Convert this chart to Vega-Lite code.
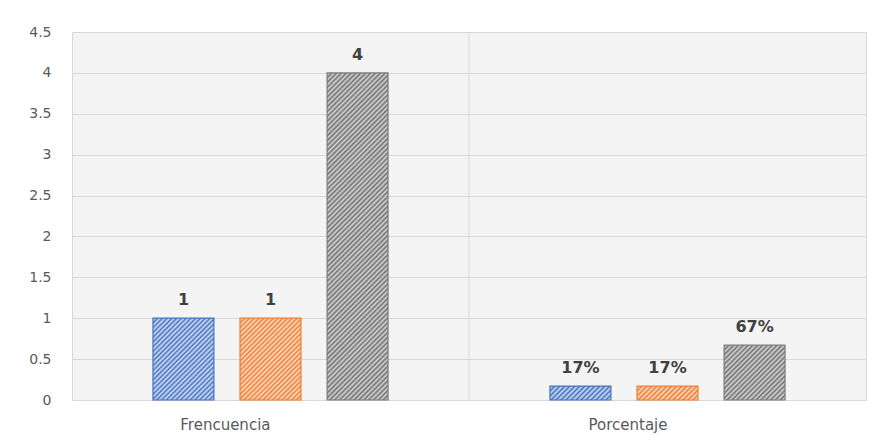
{
  "$schema": "https://vega.github.io/schema/vega-lite/v6.json",
  "width": 794,
  "height": 368,
  "autosize": {"type": "none"},
  "padding": {"left": 72, "top": 32, "right": 15, "bottom": 41},
  "background": "white",
  "config": {
    "font": "DejaVu Sans",
    "view": {"stroke": "#d9d9d9", "strokeWidth": 1, "fill": "#f4f4f4"}
  },
  "data": {
    "values": [
      {"categoria": "Frencuencia", "serie": "Serie 1", "valor": 1},
      {"categoria": "Frencuencia", "serie": "Serie 2", "valor": 1},
      {"categoria": "Frencuencia", "serie": "Serie 3", "valor": 4},
      {"categoria": "Porcentaje", "serie": "Serie 1", "valor": 0.17},
      {"categoria": "Porcentaje", "serie": "Serie 2", "valor": 0.17},
      {"categoria": "Porcentaje", "serie": "Serie 3", "valor": 0.67}
    ]
  },
  "encoding": {
    "y": {
      "field": "valor",
      "type": "quantitative",
      "scale": {"domain": [0, 4.5], "nice": false},
      "axis": {
        "title": null,
        "values": [0, 0.5, 1, 1.5, 2, 2.5, 3, 3.5, 4, 4.5],
        "format": "~g",
        "grid": true,
        "gridColor": "#d9d9d9",
        "gridWidth": 1,
        "domain": false,
        "ticks": false,
        "labelPadding": 21,
        "labelFontSize": 14,
        "labelColor": "#595959"
      }
    }
  },
  "layer": [
    {
      "transform": [{"filter": "datum.categoria === 'Porcentaje' && datum.serie === 'Serie 1'"}],
      "mark": {"type": "rule", "color": "#d9d9d9", "strokeWidth": 1},
      "encoding": {
        "x": {"field": "categoria", "type": "nominal", "bandPosition": 0},
        "y": null
      }
    },
    {
      "encoding": {
        "x": {
          "field": "categoria",
          "type": "nominal",
          "sort": ["Frencuencia", "Porcentaje"],
          "scale": {"paddingInner": 0, "paddingOuter": 0},
          "axis": {
            "title": null,
            "domain": false,
            "ticks": false,
            "grid": false,
            "labelAngle": 0,
            "labelPadding": 24,
            "labelFontSize": 15,
            "labelColor": "#595959"
          }
        },
        "xOffset": {
          "field": "serie",
          "scale": {"paddingInner": 0.3, "paddingOuter": 0.93}
        }
      },
      "layer": [
        {
          "transform": [{"filter": "datum.categoria === 'Frencuencia' && datum.serie === 'Serie 1'"}],
          "mark": {
            "type": "bar", "stroke": "#4472c4", "strokeWidth": 1.2,
            "fill": {"gradient": "linear", "x1": 0, "y1": 0, "x2": 0.8358, "y2": 1.1223, "stops": [
              {"offset": 0, "color": "#4472c4"}, {"offset": 0.0167, "color": "#d5e0f3"}, {"offset": 0.0333, "color": "#4472c4"}, {"offset": 0.05, "color": "#d5e0f3"},
              {"offset": 0.0667, "color": "#4472c4"}, {"offset": 0.0833, "color": "#d5e0f3"}, {"offset": 0.1, "color": "#4472c4"}, {"offset": 0.1167, "color": "#d5e0f3"},
              {"offset": 0.1333, "color": "#4472c4"}, {"offset": 0.15, "color": "#d5e0f3"}, {"offset": 0.1667, "color": "#4472c4"}, {"offset": 0.1833, "color": "#d5e0f3"},
              {"offset": 0.2, "color": "#4472c4"}, {"offset": 0.2167, "color": "#d5e0f3"}, {"offset": 0.2333, "color": "#4472c4"}, {"offset": 0.25, "color": "#d5e0f3"},
              {"offset": 0.2667, "color": "#4472c4"}, {"offset": 0.2833, "color": "#d5e0f3"}, {"offset": 0.3, "color": "#4472c4"}, {"offset": 0.3167, "color": "#d5e0f3"},
              {"offset": 0.3333, "color": "#4472c4"}, {"offset": 0.35, "color": "#d5e0f3"}, {"offset": 0.3667, "color": "#4472c4"}, {"offset": 0.3833, "color": "#d5e0f3"},
              {"offset": 0.4, "color": "#4472c4"}, {"offset": 0.4167, "color": "#d5e0f3"}, {"offset": 0.4333, "color": "#4472c4"}, {"offset": 0.45, "color": "#d5e0f3"},
              {"offset": 0.4667, "color": "#4472c4"}, {"offset": 0.4833, "color": "#d5e0f3"}, {"offset": 0.5, "color": "#4472c4"}, {"offset": 0.5167, "color": "#d5e0f3"},
              {"offset": 0.5333, "color": "#4472c4"}, {"offset": 0.55, "color": "#d5e0f3"}, {"offset": 0.5667, "color": "#4472c4"}, {"offset": 0.5833, "color": "#d5e0f3"},
              {"offset": 0.6, "color": "#4472c4"}, {"offset": 0.6167, "color": "#d5e0f3"}, {"offset": 0.6333, "color": "#4472c4"}, {"offset": 0.65, "color": "#d5e0f3"},
              {"offset": 0.6667, "color": "#4472c4"}, {"offset": 0.6833, "color": "#d5e0f3"}, {"offset": 0.7, "color": "#4472c4"}, {"offset": 0.7167, "color": "#d5e0f3"},
              {"offset": 0.7333, "color": "#4472c4"}, {"offset": 0.75, "color": "#d5e0f3"}, {"offset": 0.7667, "color": "#4472c4"}, {"offset": 0.7833, "color": "#d5e0f3"},
              {"offset": 0.8, "color": "#4472c4"}, {"offset": 0.8167, "color": "#d5e0f3"}, {"offset": 0.8333, "color": "#4472c4"}, {"offset": 0.85, "color": "#d5e0f3"},
              {"offset": 0.8667, "color": "#4472c4"}, {"offset": 0.8833, "color": "#d5e0f3"}, {"offset": 0.9, "color": "#4472c4"}, {"offset": 0.9167, "color": "#d5e0f3"},
              {"offset": 0.9333, "color": "#4472c4"}, {"offset": 0.95, "color": "#d5e0f3"}, {"offset": 0.9667, "color": "#4472c4"}, {"offset": 0.9833, "color": "#d5e0f3"},
              {"offset": 1, "color": "#4472c4"}
            ]}
          }
        },
        {
          "transform": [{"filter": "datum.categoria === 'Frencuencia' && datum.serie === 'Serie 2'"}],
          "mark": {
            "type": "bar", "stroke": "#ed7d31", "strokeWidth": 1.2,
            "fill": {"gradient": "linear", "x1": 0, "y1": 0, "x2": 0.8358, "y2": 1.1223, "stops": [
              {"offset": 0, "color": "#ed7d31"}, {"offset": 0.0167, "color": "#fbe0cc"}, {"offset": 0.0333, "color": "#ed7d31"}, {"offset": 0.05, "color": "#fbe0cc"},
              {"offset": 0.0667, "color": "#ed7d31"}, {"offset": 0.0833, "color": "#fbe0cc"}, {"offset": 0.1, "color": "#ed7d31"}, {"offset": 0.1167, "color": "#fbe0cc"},
              {"offset": 0.1333, "color": "#ed7d31"}, {"offset": 0.15, "color": "#fbe0cc"}, {"offset": 0.1667, "color": "#ed7d31"}, {"offset": 0.1833, "color": "#fbe0cc"},
              {"offset": 0.2, "color": "#ed7d31"}, {"offset": 0.2167, "color": "#fbe0cc"}, {"offset": 0.2333, "color": "#ed7d31"}, {"offset": 0.25, "color": "#fbe0cc"},
              {"offset": 0.2667, "color": "#ed7d31"}, {"offset": 0.2833, "color": "#fbe0cc"}, {"offset": 0.3, "color": "#ed7d31"}, {"offset": 0.3167, "color": "#fbe0cc"},
              {"offset": 0.3333, "color": "#ed7d31"}, {"offset": 0.35, "color": "#fbe0cc"}, {"offset": 0.3667, "color": "#ed7d31"}, {"offset": 0.3833, "color": "#fbe0cc"},
              {"offset": 0.4, "color": "#ed7d31"}, {"offset": 0.4167, "color": "#fbe0cc"}, {"offset": 0.4333, "color": "#ed7d31"}, {"offset": 0.45, "color": "#fbe0cc"},
              {"offset": 0.4667, "color": "#ed7d31"}, {"offset": 0.4833, "color": "#fbe0cc"}, {"offset": 0.5, "color": "#ed7d31"}, {"offset": 0.5167, "color": "#fbe0cc"},
              {"offset": 0.5333, "color": "#ed7d31"}, {"offset": 0.55, "color": "#fbe0cc"}, {"offset": 0.5667, "color": "#ed7d31"}, {"offset": 0.5833, "color": "#fbe0cc"},
              {"offset": 0.6, "color": "#ed7d31"}, {"offset": 0.6167, "color": "#fbe0cc"}, {"offset": 0.6333, "color": "#ed7d31"}, {"offset": 0.65, "color": "#fbe0cc"},
              {"offset": 0.6667, "color": "#ed7d31"}, {"offset": 0.6833, "color": "#fbe0cc"}, {"offset": 0.7, "color": "#ed7d31"}, {"offset": 0.7167, "color": "#fbe0cc"},
              {"offset": 0.7333, "color": "#ed7d31"}, {"offset": 0.75, "color": "#fbe0cc"}, {"offset": 0.7667, "color": "#ed7d31"}, {"offset": 0.7833, "color": "#fbe0cc"},
              {"offset": 0.8, "color": "#ed7d31"}, {"offset": 0.8167, "color": "#fbe0cc"}, {"offset": 0.8333, "color": "#ed7d31"}, {"offset": 0.85, "color": "#fbe0cc"},
              {"offset": 0.8667, "color": "#ed7d31"}, {"offset": 0.8833, "color": "#fbe0cc"}, {"offset": 0.9, "color": "#ed7d31"}, {"offset": 0.9167, "color": "#fbe0cc"},
              {"offset": 0.9333, "color": "#ed7d31"}, {"offset": 0.95, "color": "#fbe0cc"}, {"offset": 0.9667, "color": "#ed7d31"}, {"offset": 0.9833, "color": "#fbe0cc"},
              {"offset": 1, "color": "#ed7d31"}
            ]}
          }
        },
        {
          "transform": [{"filter": "datum.categoria === 'Frencuencia' && datum.serie === 'Serie 3'"}],
          "mark": {
            "type": "bar", "stroke": "#7a7a7a", "strokeWidth": 1.2,
            "fill": {"gradient": "linear", "x1": 0, "y1": 0, "x2": 0.2134, "y2": 1.1464, "stops": [
              {"offset": 0, "color": "#707070"}, {"offset": 0.00625, "color": "#d6d6d6"}, {"offset": 0.0125, "color": "#707070"}, {"offset": 0.01875, "color": "#d6d6d6"},
              {"offset": 0.025, "color": "#707070"}, {"offset": 0.03125, "color": "#d6d6d6"}, {"offset": 0.0375, "color": "#707070"}, {"offset": 0.04375, "color": "#d6d6d6"},
              {"offset": 0.05, "color": "#707070"}, {"offset": 0.05625, "color": "#d6d6d6"}, {"offset": 0.0625, "color": "#707070"}, {"offset": 0.06875, "color": "#d6d6d6"},
              {"offset": 0.075, "color": "#707070"}, {"offset": 0.08125, "color": "#d6d6d6"}, {"offset": 0.0875, "color": "#707070"}, {"offset": 0.09375, "color": "#d6d6d6"},
              {"offset": 0.1, "color": "#707070"}, {"offset": 0.10625, "color": "#d6d6d6"}, {"offset": 0.1125, "color": "#707070"}, {"offset": 0.11875, "color": "#d6d6d6"},
              {"offset": 0.125, "color": "#707070"}, {"offset": 0.13125, "color": "#d6d6d6"}, {"offset": 0.1375, "color": "#707070"}, {"offset": 0.14375, "color": "#d6d6d6"},
              {"offset": 0.15, "color": "#707070"}, {"offset": 0.15625, "color": "#d6d6d6"}, {"offset": 0.1625, "color": "#707070"}, {"offset": 0.16875, "color": "#d6d6d6"},
              {"offset": 0.175, "color": "#707070"}, {"offset": 0.18125, "color": "#d6d6d6"}, {"offset": 0.1875, "color": "#707070"}, {"offset": 0.19375, "color": "#d6d6d6"},
              {"offset": 0.2, "color": "#707070"}, {"offset": 0.20625, "color": "#d6d6d6"}, {"offset": 0.2125, "color": "#707070"}, {"offset": 0.21875, "color": "#d6d6d6"},
              {"offset": 0.225, "color": "#707070"}, {"offset": 0.23125, "color": "#d6d6d6"}, {"offset": 0.2375, "color": "#707070"}, {"offset": 0.24375, "color": "#d6d6d6"},
              {"offset": 0.25, "color": "#707070"}, {"offset": 0.25625, "color": "#d6d6d6"}, {"offset": 0.2625, "color": "#707070"}, {"offset": 0.26875, "color": "#d6d6d6"},
              {"offset": 0.275, "color": "#707070"}, {"offset": 0.28125, "color": "#d6d6d6"}, {"offset": 0.2875, "color": "#707070"}, {"offset": 0.29375, "color": "#d6d6d6"},
              {"offset": 0.3, "color": "#707070"}, {"offset": 0.30625, "color": "#d6d6d6"}, {"offset": 0.3125, "color": "#707070"}, {"offset": 0.31875, "color": "#d6d6d6"},
              {"offset": 0.325, "color": "#707070"}, {"offset": 0.33125, "color": "#d6d6d6"}, {"offset": 0.3375, "color": "#707070"}, {"offset": 0.34375, "color": "#d6d6d6"},
              {"offset": 0.35, "color": "#707070"}, {"offset": 0.35625, "color": "#d6d6d6"}, {"offset": 0.3625, "color": "#707070"}, {"offset": 0.36875, "color": "#d6d6d6"},
              {"offset": 0.375, "color": "#707070"}, {"offset": 0.38125, "color": "#d6d6d6"}, {"offset": 0.3875, "color": "#707070"}, {"offset": 0.39375, "color": "#d6d6d6"},
              {"offset": 0.4, "color": "#707070"}, {"offset": 0.40625, "color": "#d6d6d6"}, {"offset": 0.4125, "color": "#707070"}, {"offset": 0.41875, "color": "#d6d6d6"},
              {"offset": 0.425, "color": "#707070"}, {"offset": 0.43125, "color": "#d6d6d6"}, {"offset": 0.4375, "color": "#707070"}, {"offset": 0.44375, "color": "#d6d6d6"},
              {"offset": 0.45, "color": "#707070"}, {"offset": 0.45625, "color": "#d6d6d6"}, {"offset": 0.4625, "color": "#707070"}, {"offset": 0.46875, "color": "#d6d6d6"},
              {"offset": 0.475, "color": "#707070"}, {"offset": 0.48125, "color": "#d6d6d6"}, {"offset": 0.4875, "color": "#707070"}, {"offset": 0.49375, "color": "#d6d6d6"},
              {"offset": 0.5, "color": "#707070"}, {"offset": 0.50625, "color": "#d6d6d6"}, {"offset": 0.5125, "color": "#707070"}, {"offset": 0.51875, "color": "#d6d6d6"},
              {"offset": 0.525, "color": "#707070"}, {"offset": 0.53125, "color": "#d6d6d6"}, {"offset": 0.5375, "color": "#707070"}, {"offset": 0.54375, "color": "#d6d6d6"},
              {"offset": 0.55, "color": "#707070"}, {"offset": 0.55625, "color": "#d6d6d6"}, {"offset": 0.5625, "color": "#707070"}, {"offset": 0.56875, "color": "#d6d6d6"},
              {"offset": 0.575, "color": "#707070"}, {"offset": 0.58125, "color": "#d6d6d6"}, {"offset": 0.5875, "color": "#707070"}, {"offset": 0.59375, "color": "#d6d6d6"},
              {"offset": 0.6, "color": "#707070"}, {"offset": 0.60625, "color": "#d6d6d6"}, {"offset": 0.6125, "color": "#707070"}, {"offset": 0.61875, "color": "#d6d6d6"},
              {"offset": 0.625, "color": "#707070"}, {"offset": 0.63125, "color": "#d6d6d6"}, {"offset": 0.6375, "color": "#707070"}, {"offset": 0.64375, "color": "#d6d6d6"},
              {"offset": 0.65, "color": "#707070"}, {"offset": 0.65625, "color": "#d6d6d6"}, {"offset": 0.6625, "color": "#707070"}, {"offset": 0.66875, "color": "#d6d6d6"},
              {"offset": 0.675, "color": "#707070"}, {"offset": 0.68125, "color": "#d6d6d6"}, {"offset": 0.6875, "color": "#707070"}, {"offset": 0.69375, "color": "#d6d6d6"},
              {"offset": 0.7, "color": "#707070"}, {"offset": 0.70625, "color": "#d6d6d6"}, {"offset": 0.7125, "color": "#707070"}, {"offset": 0.71875, "color": "#d6d6d6"},
              {"offset": 0.725, "color": "#707070"}, {"offset": 0.73125, "color": "#d6d6d6"}, {"offset": 0.7375, "color": "#707070"}, {"offset": 0.74375, "color": "#d6d6d6"},
              {"offset": 0.75, "color": "#707070"}, {"offset": 0.75625, "color": "#d6d6d6"}, {"offset": 0.7625, "color": "#707070"}, {"offset": 0.76875, "color": "#d6d6d6"},
              {"offset": 0.775, "color": "#707070"}, {"offset": 0.78125, "color": "#d6d6d6"}, {"offset": 0.7875, "color": "#707070"}, {"offset": 0.79375, "color": "#d6d6d6"},
              {"offset": 0.8, "color": "#707070"}, {"offset": 0.80625, "color": "#d6d6d6"}, {"offset": 0.8125, "color": "#707070"}, {"offset": 0.81875, "color": "#d6d6d6"},
              {"offset": 0.825, "color": "#707070"}, {"offset": 0.83125, "color": "#d6d6d6"}, {"offset": 0.8375, "color": "#707070"}, {"offset": 0.84375, "color": "#d6d6d6"},
              {"offset": 0.85, "color": "#707070"}, {"offset": 0.85625, "color": "#d6d6d6"}, {"offset": 0.8625, "color": "#707070"}, {"offset": 0.86875, "color": "#d6d6d6"},
              {"offset": 0.875, "color": "#707070"}, {"offset": 0.88125, "color": "#d6d6d6"}, {"offset": 0.8875, "color": "#707070"}, {"offset": 0.89375, "color": "#d6d6d6"},
              {"offset": 0.9, "color": "#707070"}, {"offset": 0.90625, "color": "#d6d6d6"}, {"offset": 0.9125, "color": "#707070"}, {"offset": 0.91875, "color": "#d6d6d6"},
              {"offset": 0.925, "color": "#707070"}, {"offset": 0.93125, "color": "#d6d6d6"}, {"offset": 0.9375, "color": "#707070"}, {"offset": 0.94375, "color": "#d6d6d6"},
              {"offset": 0.95, "color": "#707070"}, {"offset": 0.95625, "color": "#d6d6d6"}, {"offset": 0.9625, "color": "#707070"}, {"offset": 0.96875, "color": "#d6d6d6"},
              {"offset": 0.975, "color": "#707070"}, {"offset": 0.98125, "color": "#d6d6d6"}, {"offset": 0.9875, "color": "#707070"}, {"offset": 0.99375, "color": "#d6d6d6"},
              {"offset": 1, "color": "#707070"}
            ]}
          }
        },
        {
          "transform": [{"filter": "datum.categoria === 'Porcentaje' && datum.serie === 'Serie 1'"}],
          "mark": {
            "type": "bar", "stroke": "#4472c4", "strokeWidth": 1.2,
            "fill": {"gradient": "linear", "x1": 0, "y1": 0, "x2": 1.1674, "y2": 0.2665, "stops": [
              {"offset": 0, "color": "#4472c4"}, {"offset": 0.0333, "color": "#d5e0f3"}, {"offset": 0.0667, "color": "#4472c4"}, {"offset": 0.1, "color": "#d5e0f3"},
              {"offset": 0.1333, "color": "#4472c4"}, {"offset": 0.1667, "color": "#d5e0f3"}, {"offset": 0.2, "color": "#4472c4"}, {"offset": 0.2333, "color": "#d5e0f3"},
              {"offset": 0.2667, "color": "#4472c4"}, {"offset": 0.3, "color": "#d5e0f3"}, {"offset": 0.3333, "color": "#4472c4"}, {"offset": 0.3667, "color": "#d5e0f3"},
              {"offset": 0.4, "color": "#4472c4"}, {"offset": 0.4333, "color": "#d5e0f3"}, {"offset": 0.4667, "color": "#4472c4"}, {"offset": 0.5, "color": "#d5e0f3"},
              {"offset": 0.5333, "color": "#4472c4"}, {"offset": 0.5667, "color": "#d5e0f3"}, {"offset": 0.6, "color": "#4472c4"}, {"offset": 0.6333, "color": "#d5e0f3"},
              {"offset": 0.6667, "color": "#4472c4"}, {"offset": 0.7, "color": "#d5e0f3"}, {"offset": 0.7333, "color": "#4472c4"}, {"offset": 0.7667, "color": "#d5e0f3"},
              {"offset": 0.8, "color": "#4472c4"}, {"offset": 0.8333, "color": "#d5e0f3"}, {"offset": 0.8667, "color": "#4472c4"}, {"offset": 0.9, "color": "#d5e0f3"},
              {"offset": 0.9333, "color": "#4472c4"}, {"offset": 0.9667, "color": "#d5e0f3"}, {"offset": 1, "color": "#4472c4"}
            ]}
          }
        },
        {
          "transform": [{"filter": "datum.categoria === 'Porcentaje' && datum.serie === 'Serie 2'"}],
          "mark": {
            "type": "bar", "stroke": "#ed7d31", "strokeWidth": 1.2,
            "fill": {"gradient": "linear", "x1": 0, "y1": 0, "x2": 1.1674, "y2": 0.2665, "stops": [
              {"offset": 0, "color": "#ed7d31"}, {"offset": 0.0333, "color": "#fbe0cc"}, {"offset": 0.0667, "color": "#ed7d31"}, {"offset": 0.1, "color": "#fbe0cc"},
              {"offset": 0.1333, "color": "#ed7d31"}, {"offset": 0.1667, "color": "#fbe0cc"}, {"offset": 0.2, "color": "#ed7d31"}, {"offset": 0.2333, "color": "#fbe0cc"},
              {"offset": 0.2667, "color": "#ed7d31"}, {"offset": 0.3, "color": "#fbe0cc"}, {"offset": 0.3333, "color": "#ed7d31"}, {"offset": 0.3667, "color": "#fbe0cc"},
              {"offset": 0.4, "color": "#ed7d31"}, {"offset": 0.4333, "color": "#fbe0cc"}, {"offset": 0.4667, "color": "#ed7d31"}, {"offset": 0.5, "color": "#fbe0cc"},
              {"offset": 0.5333, "color": "#ed7d31"}, {"offset": 0.5667, "color": "#fbe0cc"}, {"offset": 0.6, "color": "#ed7d31"}, {"offset": 0.6333, "color": "#fbe0cc"},
              {"offset": 0.6667, "color": "#ed7d31"}, {"offset": 0.7, "color": "#fbe0cc"}, {"offset": 0.7333, "color": "#ed7d31"}, {"offset": 0.7667, "color": "#fbe0cc"},
              {"offset": 0.8, "color": "#ed7d31"}, {"offset": 0.8333, "color": "#fbe0cc"}, {"offset": 0.8667, "color": "#ed7d31"}, {"offset": 0.9, "color": "#fbe0cc"},
              {"offset": 0.9333, "color": "#ed7d31"}, {"offset": 0.9667, "color": "#fbe0cc"}, {"offset": 1, "color": "#ed7d31"}
            ]}
          }
        },
        {
          "transform": [{"filter": "datum.categoria === 'Porcentaje' && datum.serie === 'Serie 3'"}],
          "mark": {
            "type": "bar", "stroke": "#7a7a7a", "strokeWidth": 1.2,
            "fill": {"gradient": "linear", "x1": 0, "y1": 0, "x2": 1.0499, "y2": 0.9445, "stops": [
              {"offset": 0, "color": "#707070"}, {"offset": 0.0208, "color": "#d6d6d6"}, {"offset": 0.0417, "color": "#707070"}, {"offset": 0.0625, "color": "#d6d6d6"},
              {"offset": 0.0833, "color": "#707070"}, {"offset": 0.1042, "color": "#d6d6d6"}, {"offset": 0.125, "color": "#707070"}, {"offset": 0.1458, "color": "#d6d6d6"},
              {"offset": 0.1667, "color": "#707070"}, {"offset": 0.1875, "color": "#d6d6d6"}, {"offset": 0.2083, "color": "#707070"}, {"offset": 0.2292, "color": "#d6d6d6"},
              {"offset": 0.25, "color": "#707070"}, {"offset": 0.2708, "color": "#d6d6d6"}, {"offset": 0.2917, "color": "#707070"}, {"offset": 0.3125, "color": "#d6d6d6"},
              {"offset": 0.3333, "color": "#707070"}, {"offset": 0.3542, "color": "#d6d6d6"}, {"offset": 0.375, "color": "#707070"}, {"offset": 0.3958, "color": "#d6d6d6"},
              {"offset": 0.4167, "color": "#707070"}, {"offset": 0.4375, "color": "#d6d6d6"}, {"offset": 0.4583, "color": "#707070"}, {"offset": 0.4792, "color": "#d6d6d6"},
              {"offset": 0.5, "color": "#707070"}, {"offset": 0.5208, "color": "#d6d6d6"}, {"offset": 0.5417, "color": "#707070"}, {"offset": 0.5625, "color": "#d6d6d6"},
              {"offset": 0.5833, "color": "#707070"}, {"offset": 0.6042, "color": "#d6d6d6"}, {"offset": 0.625, "color": "#707070"}, {"offset": 0.6458, "color": "#d6d6d6"},
              {"offset": 0.6667, "color": "#707070"}, {"offset": 0.6875, "color": "#d6d6d6"}, {"offset": 0.7083, "color": "#707070"}, {"offset": 0.7292, "color": "#d6d6d6"},
              {"offset": 0.75, "color": "#707070"}, {"offset": 0.7708, "color": "#d6d6d6"}, {"offset": 0.7917, "color": "#707070"}, {"offset": 0.8125, "color": "#d6d6d6"},
              {"offset": 0.8333, "color": "#707070"}, {"offset": 0.8542, "color": "#d6d6d6"}, {"offset": 0.875, "color": "#707070"}, {"offset": 0.8958, "color": "#d6d6d6"},
              {"offset": 0.9167, "color": "#707070"}, {"offset": 0.9375, "color": "#d6d6d6"}, {"offset": 0.9583, "color": "#707070"}, {"offset": 0.9792, "color": "#d6d6d6"},
              {"offset": 1, "color": "#707070"}
            ]}
          }
        },
        {
          "transform": [{"filter": "datum.categoria === 'Frencuencia'"}],
          "mark": {"type": "text", "baseline": "bottom", "dy": -10, "fontSize": 16, "fontWeight": "bold", "color": "#404040"},
          "encoding": {
            "text": {"field": "valor", "type": "quantitative", "format": "d"}
          }
        },
        {
          "transform": [{"filter": "datum.categoria === 'Porcentaje'"}],
          "mark": {"type": "text", "baseline": "bottom", "dy": -10, "fontSize": 16, "fontWeight": "bold", "color": "#404040"},
          "encoding": {
            "text": {"field": "valor", "type": "quantitative", "format": ".0%"}
          }
        }
      ]
    }
  ]
}
